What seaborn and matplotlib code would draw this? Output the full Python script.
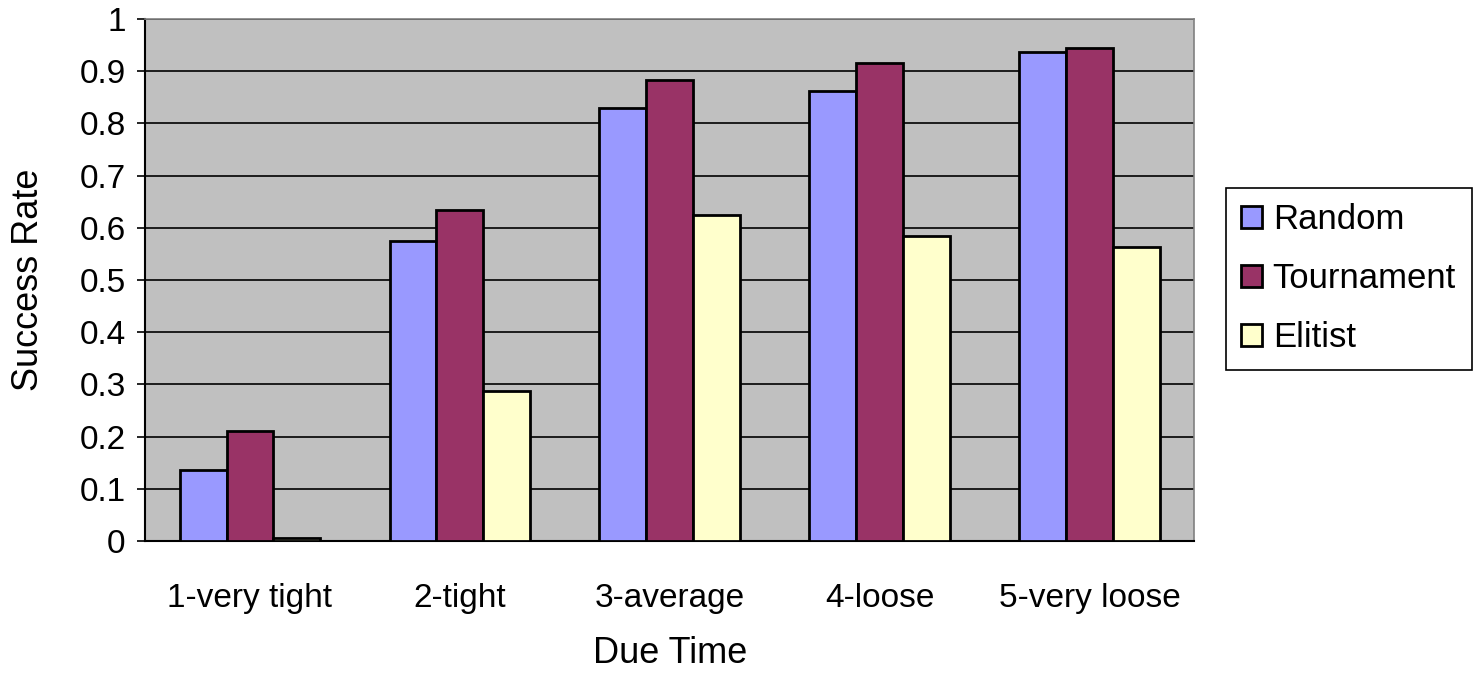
import matplotlib
matplotlib.use('Agg')
import matplotlib.pyplot as plt
import seaborn as sns
import pandas as pd

categories = ['1-very tight', '2-tight', '3-average', '4-loose', '5-very loose']
series = ['Random', 'Tournament', 'Elitist']
random_vals = [0.136, 0.575, 0.829, 0.862, 0.937]
tournament_vals = [0.211, 0.634, 0.883, 0.916, 0.944]
elitist_vals = [0.005, 0.288, 0.624, 0.585, 0.564]
colors = ['#9999FF', '#993366', '#FFFFCC']
yticks = [0, 0.1, 0.2, 0.3, 0.4, 0.5, 0.6, 0.7, 0.8, 0.9, 1]
ytick_labels = ['0', '0.1', '0.2', '0.3', '0.4', '0.5', '0.6', '0.7', '0.8', '0.9', '1']

rows = []
for name, vals in zip(series, [random_vals, tournament_vals, elitist_vals]):
    for cat, v in zip(categories, vals):
        rows.append({'Due Time': cat, 'Method': name, 'Success Rate': v})
df = pd.DataFrame(rows)

sns.set_style('white')
plt.rcParams['font.family'] = ['Liberation Sans', 'DejaVu Sans']
plt.rcParams['text.color'] = 'black'
plt.rcParams['axes.labelcolor'] = 'black'
plt.rcParams['xtick.color'] = 'black'
plt.rcParams['ytick.color'] = 'black'

fig = plt.figure(figsize=(14.8, 6.73), dpi=100)
ax = fig.add_axes([0.098, 0.196, 0.709, 0.776])
ax.set_facecolor('#C0C0C0')

sns.barplot(data=df, x='Due Time', y='Success Rate', hue='Method',
            palette=colors, width=0.67, edgecolor='black', linewidth=2,
            saturation=1, ax=ax, zorder=3)

ax.set_ylim(0, 1)
ax.set_xlim(-0.5, 4.5)
ax.set_yticks(yticks)
ax.set_yticklabels(ytick_labels)
ax.yaxis.grid(True, color='black', linewidth=1.2, zorder=0)
ax.set_axisbelow(True)
ax.tick_params(axis='y', labelsize=24, length=6, width=1.2, direction='out', left=True, pad=8)
ax.tick_params(axis='x', labelsize=24, length=0, pad=30)

ax.set_xlabel('Due Time', fontsize=26, labelpad=16)
ax.set_ylabel('Success Rate', fontsize=26, labelpad=24)

for side in ['left', 'bottom']:
    ax.spines[side].set_color('black')
    ax.spines[side].set_linewidth(1.5)
for side in ['top', 'right']:
    ax.spines[side].set_color('#808080')
    ax.spines[side].set_linewidth(1.2)

handles, labels = ax.get_legend_handles_labels()
leg = ax.legend(handles, labels, loc='center left', bbox_to_anchor=(1.03, 0.502),
                fontsize=25, frameon=True, fancybox=False, edgecolor='black',
                framealpha=1, handlelength=0.6, handleheight=0.6, handletextpad=0.3,
                labelspacing=0.75, borderpad=0.45, borderaxespad=0)
leg.get_frame().set_linewidth(1.2)

fig.savefig('out.png', dpi=100)
